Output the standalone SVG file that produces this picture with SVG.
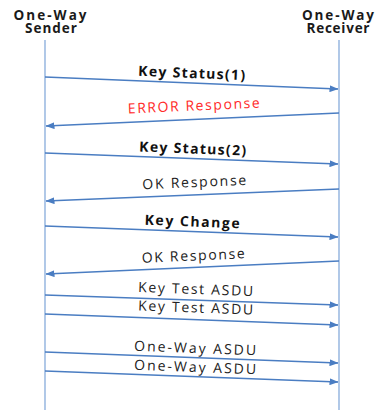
<svg xmlns="http://www.w3.org/2000/svg" width="377" height="410" viewBox="0 0 377 410">
  <style>
    .hdr { font-family: "Open Sans", "Noto Sans", sans-serif; font-size: 13.5px; font-weight: bold; fill: #1a1a1a; text-anchor: middle; }
    .lbl { font-family: "Open Sans", "Noto Sans", sans-serif; font-size: 14px; fill: #222; text-anchor: middle; }
    .bold { font-weight: bold; fill: #111; }
    .err { fill: #ff2a2a; }
    .life { stroke: #9dbbe2; stroke-width: 1.6; fill: none; }
    .msg { stroke: #4a7dc2; stroke-width: 1.3; fill: none; marker-end: url(#head); }
  </style>
  <defs>
    <marker id="head" markerUnits="userSpaceOnUse" markerWidth="9" markerHeight="7" refX="8.5" refY="3.5" orient="auto">
      <path d="M0,0 L9,3.5 L0,7 z" fill="#4a7dc2"/>
    </marker>
  </defs>
  <rect width="377" height="410" fill="#ffffff"/>

  <!-- participants -->
  <g id="sender">
    <text class="hdr" x="50" y="20" textLength="73">One-Way</text>
    <text class="hdr" x="51" y="33" textLength="52">Sender</text>
    <line class="life" x1="45" y1="40" x2="45" y2="410"/>
  </g>
  <g id="receiver">
    <text class="hdr" x="338" y="20" textLength="72">One-Way</text>
    <text class="hdr" x="338" y="33" textLength="63">Receiver</text>
    <line class="life" x1="339" y1="40" x2="339" y2="410"/>
  </g>

  <!-- messages -->
  <g id="connectors">
    <line class="msg" x1="45" y1="77" x2="338" y2="89"/>
    <line class="msg" x1="339" y1="113" x2="46" y2="126"/>
    <line class="msg" x1="45" y1="153" x2="338" y2="164"/>
    <line class="msg" x1="339" y1="189" x2="46" y2="201"/>
    <line class="msg" x1="45" y1="226" x2="338" y2="237"/>
    <line class="msg" x1="339" y1="261" x2="46" y2="274"/>
    <line class="msg" x1="45" y1="295" x2="338" y2="305"/>
    <line class="msg" x1="45" y1="314" x2="338" y2="325"/>
    <line class="msg" x1="45" y1="352" x2="338" y2="363"/>
    <line class="msg" x1="45" y1="371" x2="338" y2="382"/>
  </g>

  <g id="labels">
    <text class="lbl bold" x="191.5" y="78" textLength="107" transform="rotate(2.3 191.5 78)">Key  Status(1)</text>
    <text class="lbl err" x="194" y="110.5" textLength="132" transform="rotate(-2.5 194 110.5)">ERROR Response</text>
    <text class="lbl bold" x="192.5" y="153.5" textLength="107" transform="rotate(2.2 192.5 153.5)">Key  Status(2)</text>
    <text class="lbl" x="194.5" y="187" textLength="104" transform="rotate(-2.4 194.5 187)">OK Response</text>
    <text class="lbl bold" x="192" y="226.5" textLength="95" transform="rotate(2.2 192 226.5)">Key  Change</text>
    <text class="lbl" x="193.5" y="260.5" textLength="103" transform="rotate(-2.5 193.5 260.5)">OK Response</text>
    <text class="lbl" x="195.5" y="294" textLength="115" transform="rotate(2 195.5 294)">Key Test ASDU</text>
    <text class="lbl" x="195.5" y="312.5" textLength="115" transform="rotate(2.1 195.5 312.5)">Key Test ASDU</text>
    <text class="lbl" x="195" y="353" textLength="122" transform="rotate(2.1 195 353)">One-Way ASDU</text>
    <text class="lbl" x="195" y="372" textLength="122" transform="rotate(2.1 195 372)">One-Way ASDU</text>
  </g>
</svg>
